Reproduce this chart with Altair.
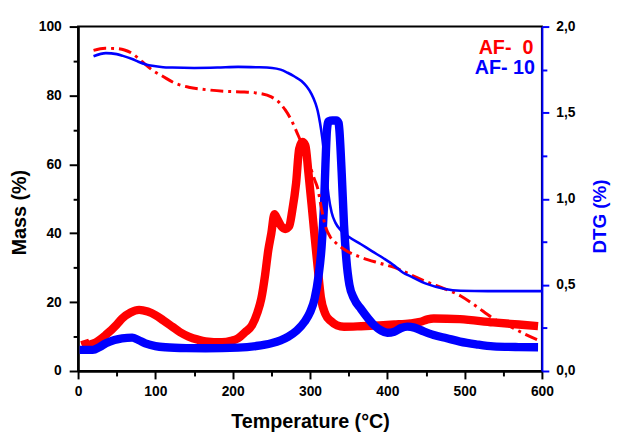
import altair as alt
import pandas as pd

# ---- data ----
red_mass_T = [20, 35, 50, 60, 70, 83, 96, 110, 126, 143, 165, 190, 215, 235, 250, 260, 268, 276,
              284, 292, 300, 306, 310, 315, 320, 326, 333, 345, 366, 390, 410, 430, 451, 475,
              495, 515, 537, 560, 580, 595]
red_mass = [93.1, 93.7, 93.6, 93.2, 92.2, 89.8, 87.4, 85.5, 83.5, 82.4, 81.7, 81.2, 81.0, 80.6,
            79.6, 78.0, 75.8, 72.8, 68.8, 64.5, 59.5, 55.5, 53.0, 47.0, 42.0, 39.0, 37.3, 35.2,
            33.0, 31.3, 30.0, 28.0, 25.9, 23.8, 21.8, 18.8, 15.3, 12.8, 10.5, 9.0]

blue_mass_T = [20, 36, 50, 58, 70, 78, 88, 96, 110, 122, 150, 180, 207, 230, 251, 262, 271, 280,
               289, 296, 302, 307, 310, 313, 316, 320, 324, 328, 333, 340, 350, 366, 380, 396,
               409, 420, 431, 451, 473, 495, 530, 600]
blue_mass = [91.4, 92.3, 92.0, 91.5, 90.6, 89.8, 89.0, 88.6, 88.2, 88.1, 88.0, 88.1, 88.3, 88.2,
             88.0, 87.5, 86.6, 85.5, 84.2, 82.5, 80.4, 77.8, 75.5, 72.0, 67.5, 59.0, 51.0, 46.0,
             43.0, 40.8, 39.0, 36.8, 34.8, 32.6, 30.6, 28.6, 27.4, 25.3, 23.9, 23.3, 23.2, 23.2]

red_dtg_T = [8, 11, 20, 36, 50, 57, 68, 79, 90, 100, 110, 122, 132, 143, 155, 165, 186, 198, 207,
             216, 225, 232, 237, 242, 246, 250, 254, 258, 263, 268, 273, 277, 282, 286, 290, 294,
             298, 302, 306, 310, 314, 320, 327, 335, 344, 366, 390, 409, 430, 443, 452, 460, 494,
             537, 570, 595]
red_dtg = [0.18, 0.15, 0.16, 0.21, 0.27, 0.305, 0.34, 0.355, 0.345, 0.325, 0.295, 0.257, 0.225,
           0.20, 0.182, 0.172, 0.167, 0.175, 0.19, 0.225, 0.266, 0.34, 0.42, 0.56, 0.70, 0.80,
           0.91, 0.88, 0.84, 0.825, 0.84, 0.93, 1.09, 1.29, 1.33, 1.31, 1.15, 0.97, 0.78, 0.60,
           0.43, 0.33, 0.29, 0.265, 0.257, 0.26, 0.265, 0.27, 0.277, 0.286, 0.30, 0.305, 0.301,
           0.282, 0.27, 0.261]

blue_dtg_T = [2, 19, 28, 36, 47, 57, 70, 78, 87, 100, 113, 140, 165, 207, 230, 250, 262, 272,
              283, 293, 300, 306, 311, 315, 318, 320, 322, 324, 329, 334, 337, 338, 341, 344, 347,
              351, 357, 366, 383, 392, 400, 409, 418, 426, 435, 447, 460, 477, 494, 515, 537,
              570, 595]
blue_dtg = [0.123, 0.123, 0.14, 0.161, 0.18, 0.19, 0.194, 0.18, 0.161, 0.145, 0.138, 0.133,
            0.132, 0.136, 0.145, 0.161, 0.178, 0.20, 0.235, 0.286, 0.34, 0.42, 0.55, 0.72, 0.95,
            1.2, 1.4, 1.45, 1.455, 1.455, 1.44, 1.40, 1.15, 0.85, 0.65, 0.50, 0.42, 0.36, 0.266,
            0.235, 0.222, 0.228, 0.25, 0.258, 0.252, 0.23, 0.209, 0.19, 0.171, 0.155, 0.143,
            0.139, 0.138]

legend_labels = ["AF-\u00a0\u00a00", "AF-\u00a010"]
legend_T = [589, 591]
legend_mass = [92.0, 86.2]
legend_colors = ["#ff0000", "#0000ff"]

x_ticks = list(range(0, 601, 50))
mass_ticks = list(range(0, 101, 10))
dtg_ticks = [i * 0.25 for i in range(9)]

RED = "#ff0000"
BLUE = "#0000ff"
FONT = "Liberation Sans"


def frame(T, v):
    return pd.DataFrame({"T": T, "v": v})


x_axis = alt.Axis(
    values=x_ticks,
    labelExpr="datum.value % 100 === 0 ? datum.label : ''",
    format="d",
    title="Temperature (°C)",
    titleFont=FONT, titleFontSize=20, titleFontWeight="bold", titleColor="black",
    titlePadding=13,
    labelFont=FONT, labelFontSize=14, labelFontWeight="bold", labelColor="black",
    labelPadding=6,
    domainColor="black", domainWidth=2.5,
    tickColor="black", tickWidth=2,
    tickSize={"condition": {"test": "datum.value % 100 === 0", "value": 8}, "value": 5},
    grid=False, labelFlush=False, labelOverlap=False,
)

mass_axis = alt.Axis(
    orient="left",
    values=mass_ticks,
    labelExpr="datum.value % 20 === 0 ? datum.label : ''",
    format="d",
    title="Mass (%)",
    titleFont=FONT, titleFontSize=20, titleFontWeight="bold", titleColor="black",
    titlePadding=9, titleY=188,
    labelFont=FONT, labelFontSize=14, labelFontWeight="bold", labelColor="black",
    labelPadding=8,
    domainColor="black", domainWidth=2.5,
    tickColor="black", tickWidth=2,
    tickSize={"condition": {"test": "datum.value % 20 === 0", "value": 9}, "value": 5},
    grid=False, labelFlush=False, labelOverlap=False,
)

dtg_axis = alt.Axis(
    orient="right",
    values=dtg_ticks,
    labelExpr="datum.value % 0.5 === 0 ? replace(format(datum.value, '.1f'), '.', ',') : ''",
    title="DTG (%)",
    titleFont=FONT, titleFontSize=19, titleFontWeight="bold", titleColor=BLUE,
    titleAngle=270, titleBaseline="top",
    titlePadding=16, titleY=192,
    labelFont=FONT, labelFontSize=14, labelFontWeight="bold", labelColor="black",
    labelPadding=7,
    domainColor=BLUE, domainWidth=2,
    tickColor=BLUE, tickWidth=2,
    tickSize={"condition": {"test": "datum.value % 0.5 === 0", "value": 7}, "value": 5},
    grid=False, labelFlush=False, labelOverlap=False,
)

x_scale = alt.Scale(domain=[0, 600], nice=False, zero=False)
mass_scale = alt.Scale(domain=[0, 100], nice=False)
dtg_scale = alt.Scale(domain=[0, 2], nice=False)


def dtg_line(T, v, color):
    return alt.Chart(frame(T, v)).mark_line(
        color=color, strokeWidth=8.5, interpolate="monotone", strokeJoin="round", strokeCap="butt"
    ).encode(
        x=alt.X("T:Q", scale=x_scale, axis=x_axis),
        y=alt.Y("v:Q", scale=dtg_scale, axis=dtg_axis),
    )


def mass_line(T, v, color, width, dash=None):
    kw = dict(color=color, strokeWidth=width, interpolate="monotone")
    if dash:
        kw["strokeDash"] = dash
    return alt.Chart(frame(T, v)).mark_line(**kw).encode(
        x=alt.X("T:Q", scale=x_scale, axis=x_axis),
        y=alt.Y("v:Q", scale=mass_scale, axis=mass_axis),
    )


legend_df = pd.DataFrame({"T": legend_T, "v": legend_mass, "label": legend_labels,
                          "c": legend_colors})
legend = alt.Chart(legend_df).mark_text(
    font=FONT, fontSize=20, fontWeight="bold", align="right", baseline="alphabetic"
).encode(
    x=alt.X("T:Q", scale=x_scale, axis=x_axis),
    y=alt.Y("v:Q", scale=mass_scale, axis=mass_axis),
    text="label:N",
    color=alt.Color("c:N", scale=None),
)

dtg = alt.layer(dtg_line(red_dtg_T, red_dtg, RED), dtg_line(blue_dtg_T, blue_dtg, BLUE))
mass = alt.layer(
    mass_line(red_mass_T, red_mass, RED, 3, [13, 5, 3, 5]),
    mass_line(blue_mass_T, blue_mass, BLUE, 2.6),
    legend,
)

chart = alt.layer(dtg, mass).resolve_scale(y="independent").properties(
    width=470, height=349,
    autosize=alt.AutoSizeParams(type="none"),
    padding={"left": 71, "top": 16, "right": 70, "bottom": 61},
    background="white",
).configure_view(stroke="black", strokeWidth=2)

chart.save("out.html", embed_options={"renderer": "svg", "actions": False})
